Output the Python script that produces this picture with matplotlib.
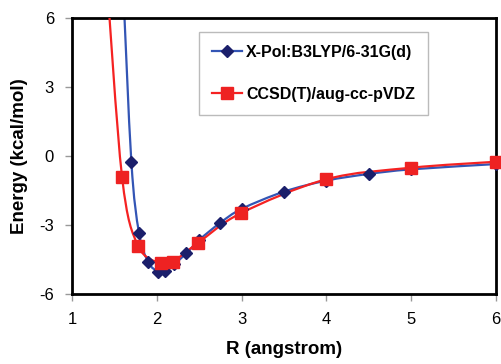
import matplotlib
matplotlib.use("Agg")
import matplotlib.pyplot as plt
import numpy as np
from matplotlib.path import Path
from matplotlib.patches import PathPatch
from matplotlib.lines import Line2D

plt.rcParams['font.family'] = ['Liberation Sans', 'DejaVu Sans']
plt.rcParams['axes.unicode_minus'] = False

# X-Pol:B3LYP/6-31G(d) (first point lies above the plot window)
r_xpol = [1.60, 1.70, 1.79, 1.90, 2.02, 2.10, 2.20, 2.35, 2.50, 2.75, 3.0, 3.5, 4.0, 4.5, 5.0, 6.0]
e_xpol = [7.6, -0.25, -3.33, -4.62, -5.03, -4.99, -4.71, -4.23, -3.65, -2.90, -2.30, -1.55, -1.07, -0.78, -0.58, -0.35]

# CCSD(T)/aug-cc-pVDZ (first point lies above the plot window)
r_cc = [1.40, 1.59, 1.78, 2.05, 2.19, 2.49, 2.99, 4.0, 5.0, 6.0]
e_cc = [8.2, -0.90, -3.91, -4.67, -4.59, -3.77, -2.49, -1.01, -0.51, -0.25]


def smooth_path(x, y):
    # Catmull-Rom curve through the points, written as cubic Beziers
    p = np.column_stack([x, y])
    p = np.vstack([p[0], p, p[-1]])
    verts = [p[1]]
    codes = [Path.MOVETO]
    for i in range(1, len(p) - 2):
        c1 = p[i] + (p[i + 1] - p[i - 1]) / 6
        c2 = p[i + 1] - (p[i + 2] - p[i]) / 6
        verts += [c1, c2, p[i + 1]]
        codes += [Path.CURVE4] * 3
    return Path(verts, codes)


fig = plt.figure(figsize=(5.02, 3.64), dpi=100)
ax = fig.add_axes([72 / 502, 1 - 294 / 364, 424 / 502, 276 / 364])

blue_line, blue_mark = '#3355b5', '#1b1f6b'
red_line, red_mark = '#f52222', '#ee2222'

ax.add_patch(PathPatch(smooth_path(r_xpol, e_xpol), fc='none', ec=blue_line, lw=1.6, zorder=2))
ax.add_patch(PathPatch(smooth_path(r_cc, e_cc), fc='none', ec=red_line, lw=1.6, zorder=3))

rx, ex = np.array(r_xpol), np.array(e_xpol)
rc, ec = np.array(r_cc), np.array(e_cc)
ax.plot(rx[ex <= 6], ex[ex <= 6], ls='none', marker='D', ms=6, color=blue_mark, clip_on=False, zorder=4)
ax.plot(rc[ec <= 6], ec[ec <= 6], ls='none', marker='s', ms=8, color=red_mark, clip_on=False, zorder=5)

ax.set_xlim(1, 6)
ax.set_ylim(-6, 6)
ax.set_xticks([1, 2, 3, 4, 5, 6])
ax.set_yticks([-6, -3, 0, 3, 6])
ax.tick_params(direction='out', length=5, width=1, color='#999999', labelsize=12, pad=8)
for s in ax.spines.values():
    s.set_linewidth(2)
    s.set_color('black')

ax.set_xlabel('R (angstrom)', fontsize=13.5, fontweight='bold', labelpad=10)
ax.set_ylabel('Energy (kcal/mol)', fontsize=13.5, fontweight='bold', labelpad=8)

handles = [
    Line2D([], [], color=blue_line, lw=1.6, marker='D', ms=6, mfc=blue_mark, mec=blue_mark),
    Line2D([], [], color=red_line, lw=1.6, marker='s', ms=8, mfc=red_mark, mec=red_mark),
]
leg = ax.legend(handles, ['X-Pol:B3LYP/6-31G(d)', 'CCSD(T)/aug-cc-pVDZ'],
                loc='upper left', bbox_to_anchor=(0.30, 0.949), borderaxespad=0,
                fancybox=False, edgecolor='#bbbbbb', framealpha=1,
                prop={'weight': 'bold', 'size': 11.5}, labelspacing=1.7,
                handlelength=1.9, handletextpad=0.25, borderpad=0.8)
leg.get_frame().set_linewidth(1)

fig.savefig('out.png', dpi=100)
